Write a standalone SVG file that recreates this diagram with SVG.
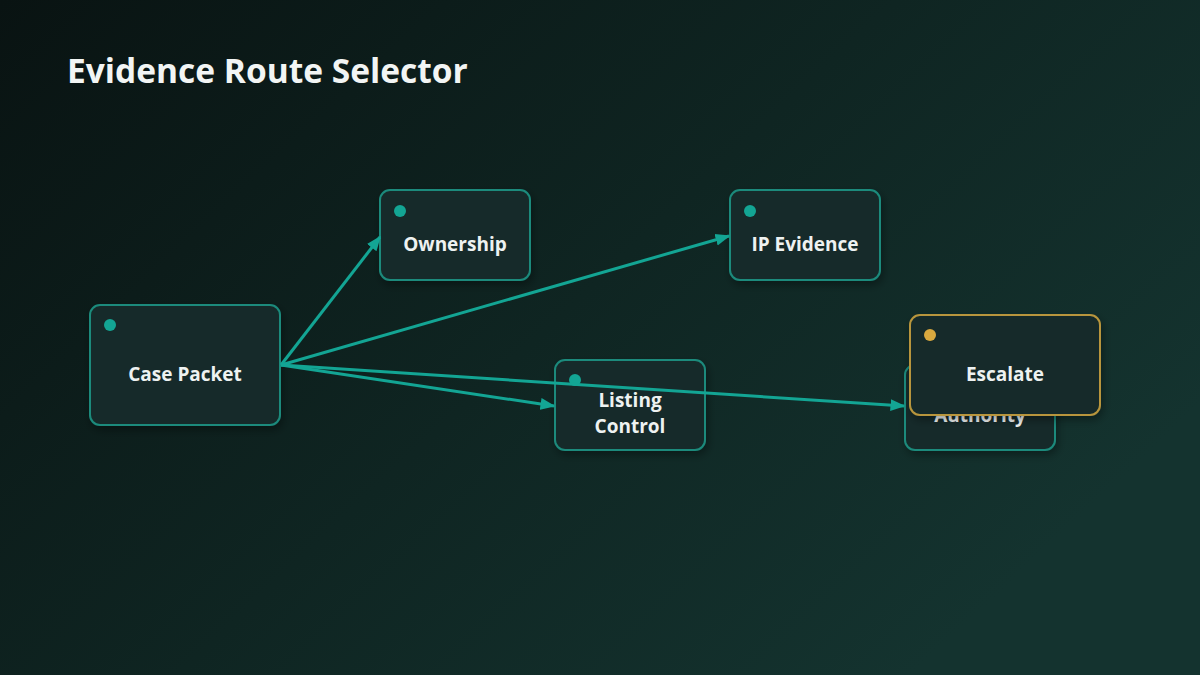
<svg xmlns="http://www.w3.org/2000/svg" width="1200" height="675" viewBox="0 0 1200 675">
<defs>
<linearGradient id="bg" x1="0" y1="0" x2="1" y2="0.6">
<stop offset="0" stop-color="#091312"/>
<stop offset="0.55" stop-color="#0f2522"/>
<stop offset="1" stop-color="#14332f"/>
</linearGradient>
<filter id="sh" x="-20%" y="-20%" width="140%" height="150%">
<feDropShadow dx="2" dy="4" stdDeviation="4" flood-color="#000" flood-opacity="0.35"/>
</filter>
<marker id="ah" viewBox="0 0 10 10" refX="9" refY="5" markerWidth="5" markerHeight="5" orient="auto" markerUnits="strokeWidth">
<path d="M0,1 L10,5 L0,9 z" fill="#13a594"/>
</marker>
<style>
.box{fill:#132c29;stroke:#1c8a7c;stroke-width:2;filter:url(#sh)}
.gold{stroke:#b8953c}
.dot{fill:#13a594}
.gdot{fill:#d9a93f}
.lbl{font-family:"Open Sans","Noto Sans","Liberation Sans",sans-serif;font-weight:700;font-size:19px;fill:#eef2f1;text-anchor:middle}
.edge{stroke:#13a594;stroke-width:3;fill:none;marker-end:url(#ah)}
</style>
</defs>
<rect width="1200" height="675" fill="url(#bg)"/>
<text x="67" y="83" font-family="'Open Sans','Noto Sans','Liberation Sans',sans-serif" font-weight="700" font-size="33.5" fill="#f2f5f4">Evidence Route Selector</text>
<g id="node-case-packet">
<rect class="box" x="90" y="305" width="190" height="120" rx="10"/>
<circle class="dot" cx="110" cy="325" r="6"/>
<text class="lbl" x="185" y="381">Case Packet</text>
</g>
<g id="node-ownership">
<rect class="box" x="380" y="190" width="150" height="90" rx="10"/>
<circle class="dot" cx="400" cy="211" r="6"/>
<text class="lbl" x="455" y="251">Ownership</text>
</g>
<g id="node-ip-evidence">
<rect class="box" x="730" y="190" width="150" height="90" rx="10"/>
<circle class="dot" cx="750" cy="211" r="6"/>
<text class="lbl" x="805" y="251">IP Evidence</text>
</g>
<g id="node-listing-control">
<rect class="box" x="555" y="360" width="150" height="90" rx="10"/>
<circle class="dot" cx="575" cy="380" r="6"/>
<text class="lbl" x="630" y="407">Listing</text>
<text class="lbl" x="630" y="433">Control</text>
</g>
<g id="node-authority">
<rect class="box" x="905" y="365" width="150" height="85" rx="10"/>
<text class="lbl" x="980" y="422">Authority</text>
</g>
<g id="connectors">
<line class="edge" x1="281" y1="365" x2="380" y2="237"/>
<line class="edge" x1="281" y1="365" x2="729" y2="236"/>
<line class="edge" x1="281" y1="365" x2="554" y2="406"/>
<line class="edge" x1="281" y1="365" x2="904" y2="406"/>
</g>
<g id="node-escalate">
<rect class="box gold" x="910" y="315" width="190" height="100" rx="10"/>
<circle class="gdot" cx="930" cy="335" r="6"/>
<text class="lbl" x="1005" y="381">Escalate</text>
</g>
</svg>
